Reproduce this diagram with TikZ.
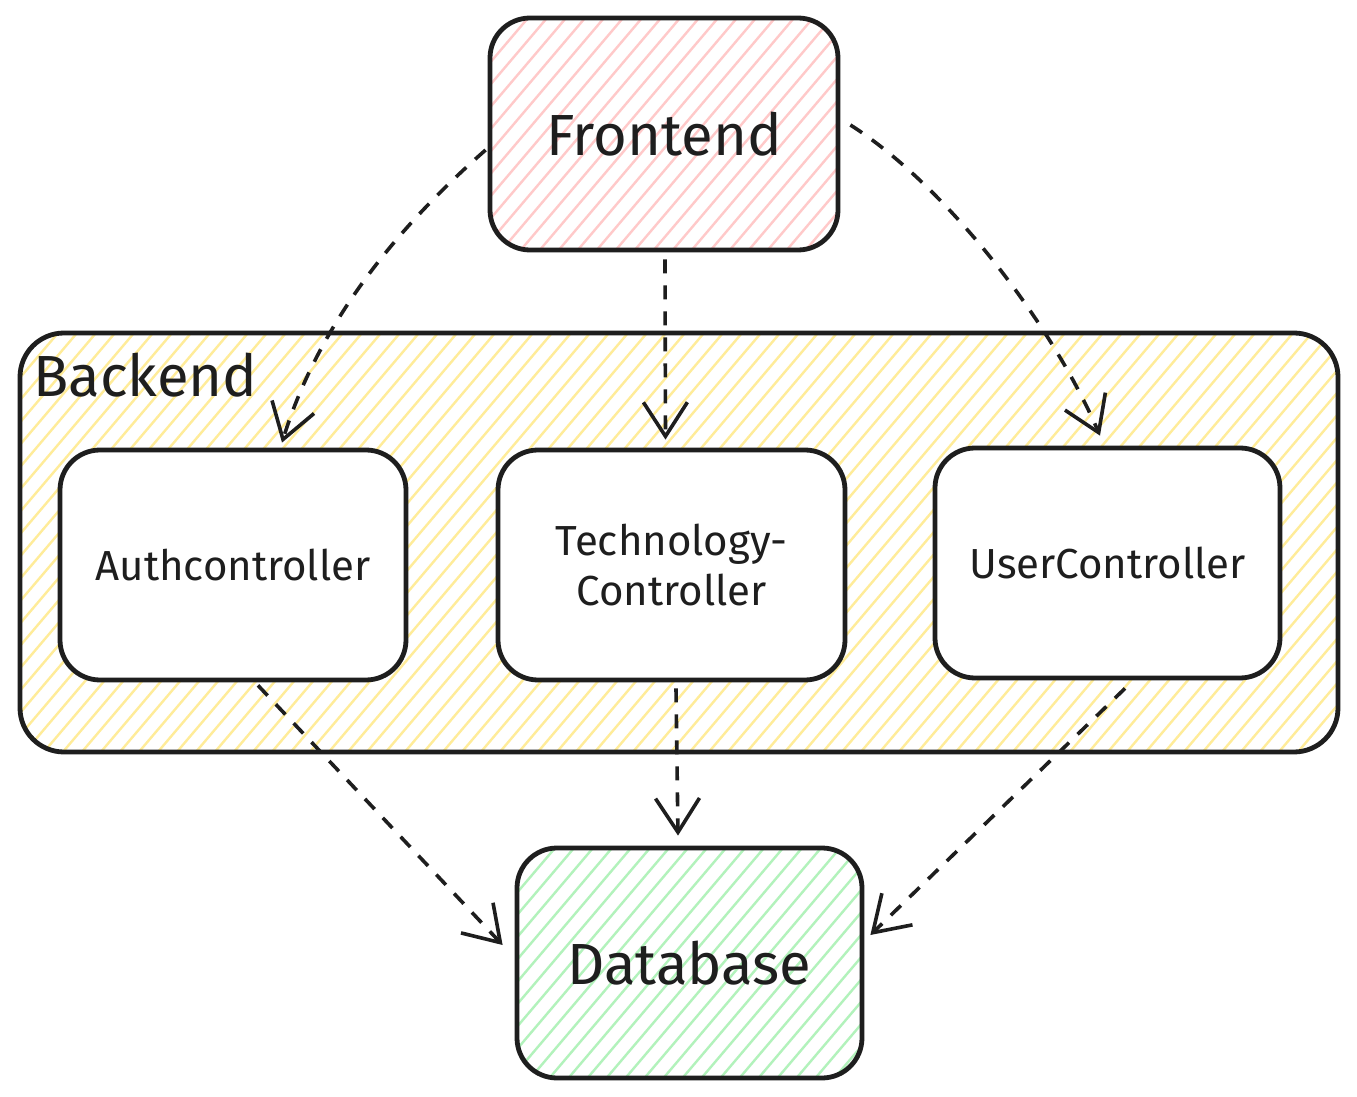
\documentclass[tikz,border=0pt]{standalone}
\usepackage{fontspec}
\setmainfont{Fira Sans}
\usetikzlibrary{arrows.meta,calc}
\definecolor{ink}{HTML}{1E1E1E}
\definecolor{pinkh}{HTML}{FFC9C9}
\definecolor{yellowh}{HTML}{FFEC99}
\definecolor{greenh}{HTML}{B2F2BB}
\newcommand{\hatchbox}[6]{%
  \begin{scope}
    \clip[rounded corners=#5] (#1,#2) rectangle (#3,#4);
    \foreach \i in {0,...,95}{%
      \pgfmathsetmacro{\hh}{#4-#2}%
      \pgfmathsetmacro{\kk}{#1-0.85*\hh+19*\i}%
      \draw[#6, line width=1.2pt] (\kk,#4) -- ++(0.85*\hh,-\hh);
    }
  \end{scope}}
\begin{document}
\begin{tikzpicture}[x=0.5pt,y=-0.5pt,
  box/.style={draw=ink, line width=2.4pt, rounded corners=20pt, inner sep=0pt, align=center, text=ink},
  big/.style={font=\fontsize{29}{34}\selectfont},
  small/.style={font=\fontsize{21}{25}\selectfont},
  conn/.style={draw=ink, line width=1.8pt, dash pattern=on 7pt off 6pt,
    -{Straight Barb[length=17pt,width=22pt,line width=1.8pt]}}]
  \fill[white] (0,0) rectangle (1357,1097);
  \useasboundingbox (0,0) rectangle (1357,1097);

  % Backend
  \hatchbox{20}{333}{1338}{752}{22pt}{yellowh}
  \node[box, rounded corners=22pt, minimum width=659pt, minimum height=209.5pt] (be) at (679,542.5) {};
  \node[big, text=ink, anchor=west, inner sep=0pt] (belabel) at (33,375) {Backend};

  % Frontend
  \hatchbox{490}{18}{838}{250}{20pt}{pinkh}
  \node[box, big, minimum width=174pt, minimum height=116pt] (fe) at (664,134) {Frontend};

  % Database
  \hatchbox{517}{848}{862}{1078}{20pt}{greenh}
  \node[box, big, minimum width=172.5pt, minimum height=115pt] (db) at (689.5,963) {Database};

  % Controllers
  \node[box, small, fill=white, minimum width=173pt, minimum height=115pt] (auth) at (233,565) {Authcontroller};
  \node[box, small, fill=white, minimum width=173.5pt, minimum height=115pt] (tech) at (671.5,565) {Technology-\\Controller};
  \node[box, small, fill=white, minimum width=172.5pt, minimum height=115pt] (user) at (1107.5,563) {UserController};

  % Connectors
  \draw[conn] ($(fe.west)+(-2,16)$) .. controls (400,225) and (320,320) .. ($(auth.north)+(49,-5)$);
  \draw[conn] ($(fe.south)+(1,7)$) -- ($(tech.north)+(-6,-8)$);
  \draw[conn] ($(fe.east)+(10,-9)$) .. controls (945,185) and (1050,320) .. ($(user.north)+(-7.5,-10)$);
  \draw[conn] ($(auth.south)+(25,3)$) -- ($(db.west)+(-12,-18)$);
  \draw[conn] ($(tech.south)+(4.5,6)$) -- ($(db.north)+(-11.5,-10)$);
  \draw[conn] ($(user.south)+(17.5,8)$) -- ($(db.east)+(6,-28)$);
\end{tikzpicture}
\end{document}
